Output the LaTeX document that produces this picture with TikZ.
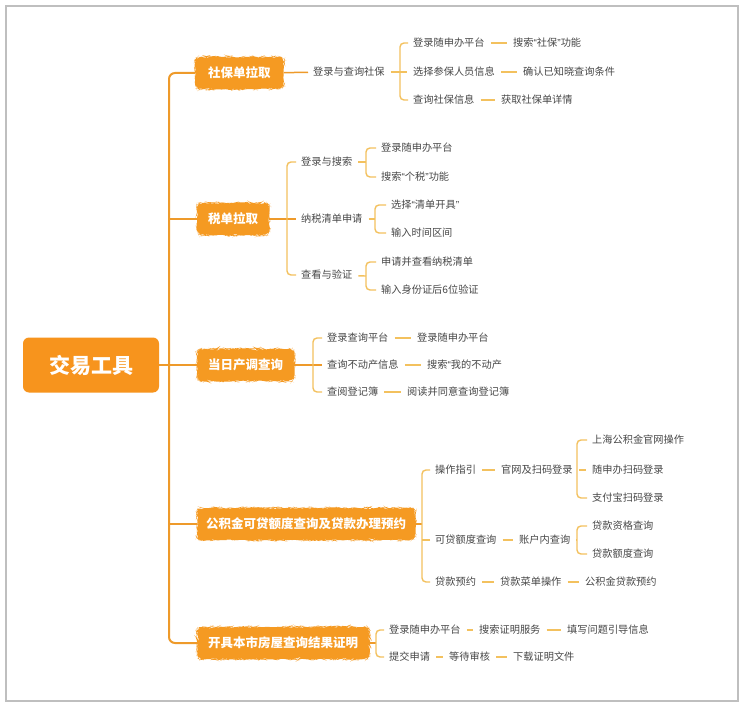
\documentclass[tikz,border=0pt]{standalone}
\usepackage{fontspec}
\setmainfont{Noto Sans CJK SC}
\newfontfamily\quotefont{Liberation Sans}
\newcommand{\openq}{{\quotefont “}}
\newcommand{\closeq}{{\quotefont ”}}
\usetikzlibrary{decorations.pathmorphing}
\definecolor{tool}{HTML}{F7941D}
\definecolor{topicfill}{HTML}{F59A22}
\definecolor{trunk}{HTML}{EE9A2A}
\definecolor{twig}{HTML}{F3C15E}
\definecolor{leafink}{HTML}{474747}

\begin{document}
\begin{tikzpicture}[x=1pt,y=-1pt,
  root/.style={fill=tool,rounded corners=6pt,minimum width=136pt,minimum height=55pt,text=white,font=\fontsize{21}{24}\selectfont\bfseries},
  topic/.style={anchor=west,fill=topicfill,rounded corners=5pt,minimum height=32pt,inner xsep=11pt,text=white,font=\fontsize{12.5}{14}\selectfont\bfseries,
    decorate,decoration={random steps,segment length=2.5pt,amplitude=0.8pt}},
  leaf/.style={anchor=west,inner sep=1pt,text=leafink,font=\fontsize{10.2}{12}\selectfont},
  trunkline/.style={draw=trunk,line width=2pt},
  branchline/.style={draw=trunk,line width=1.5pt,shorten >=4pt},
  twigline/.style={draw=twig,line width=1.4pt},
  bracket/.style={twigline,rounded corners=4pt,shorten <=4pt,shorten >=4pt},
  link/.style={twigline,shorten <=5pt,shorten >=5pt}]
  \useasboundingbox (0,0) rectangle (740,706);
  \fill[white] (0,0) rectangle (740,706);
  \draw[black!25,line width=2pt] (6,6) rectangle (738,701);

  % root and main topics
  \node[root] (root) at (91,365) {交易工具};
  \node[topic,inner xsep=13pt] (sb) at (195,73)  {社保单拉取};
  \node[topic] (sd) at (197,219) {税单拉取};
  \node[topic] (dr) at (197,365) {当日产调查询};
  \node[topic,inner xsep=9pt] (gj) at (197,524) {公积金可贷额度查询及贷款办理预约};
  \node[topic] (kj) at (197,643) {开具本市房屋查询结果证明};

  \coordinate (tk) at (169,365);
  \draw[trunkline,rounded corners=6pt] (sb.west) -| (tk) |- (kj.west);
  \draw[trunkline] (sd.west) -- (sd.west -| tk);
  \draw[trunkline] (gj.west) -- (gj.west -| tk);
  \draw[trunkline] (root) -- (dr);

  % 社保单拉取
  \node[leaf] (sbq)  at (312,72)  {登录与查询社保};
  \node[leaf] (sb1)  at (412,43)  {登录随申办平台};
  \node[leaf] (sb1a) at (512,43)  {搜索\openq 社保\closeq 功能};
  \node[leaf] (sb2)  at (412,72)  {选择参保人员信息};
  \node[leaf] (sb2a) at (522,72)  {确认已知晓查询条件};
  \node[leaf] (sb3)  at (412,100) {查询社保信息};
  \node[leaf] (sb3a) at (500,100) {获取社保单详情};
  \coordinate (sbk) at (400,72);
  \draw[branchline] (sb) -- (sbq);
  \draw[bracket] (sb1.west) -| (sbk) |- (sb3.west);
  \draw[link] (sbq) -- (sb2);
  \draw[link] (sb1) -- (sb1a);
  \draw[link] (sb2) -- (sb2a);
  \draw[link] (sb3) -- (sb3a);

  % 税单拉取
  \node[leaf] (sd1)  at (300,162) {登录与搜索};
  \node[leaf] (sd1a) at (380,148) {登录随申办平台};
  \node[leaf] (sd1b) at (380,177) {搜索\openq 个税\closeq 功能};
  \node[leaf] (sd2)  at (300,219) {纳税清单申请};
  \node[leaf] (sd2a) at (390,205) {选择\openq 清单开具\closeq};
  \node[leaf] (sd2b) at (390,233) {输入时间区间};
  \node[leaf] (sd3)  at (300,275) {查看与验证};
  \node[leaf] (sd3a) at (380,262) {申请并查看纳税清单};
  \node[leaf] (sd3b) at (380,290) {输入身份证后6位验证};
  \coordinate (sdk)  at (287,219);
  \coordinate (sd1k) at (366,162);
  \coordinate (sd2k) at (375,219);
  \coordinate (sd3k) at (366,276);
  \draw[branchline] (sd) -- (sd2);
  \draw[bracket] (sd1.west) -| (sdk) |- (sd3.west);
  \draw[twigline,shorten <=5pt] (sd1) -- (sd1k);
  \draw[twigline,shorten <=5pt] (sd2) -- (sd2k);
  \draw[twigline,shorten <=5pt] (sd3) -- (sd3k);
  \draw[bracket] (sd1a.west) -| (sd1k) |- (sd1b.west);
  \draw[bracket] (sd2a.west) -| (sd2k) |- (sd2b.west);
  \draw[bracket] (sd3a.west) -| (sd3k) |- (sd3b.west);

  % 当日产调查询
  \node[leaf] (dr1)  at (326,338) {登录查询平台};
  \node[leaf] (dr1a) at (416,338) {登录随申办平台};
  \node[leaf] (dr2)  at (326,365) {查询不动产信息};
  \node[leaf] (dr2a) at (426,365) {搜索\openq 我的不动产};
  \node[leaf] (dr3)  at (326,392) {查阅登记簿};
  \node[leaf] (dr3a) at (406,392) {阅读并同意查询登记簿};
  \coordinate (drk) at (313,365);
  \draw[branchline] (dr) -- (dr2);
  \draw[bracket] (dr1.west) -| (drk) |- (dr3.west);
  \draw[link] (dr1) -- (dr1a);
  \draw[link] (dr2) -- (dr2a);
  \draw[link] (dr3) -- (dr3a);

  % 公积金可贷额度查询及贷款办理预约
  \node[leaf] (gj1)  at (434,470) {操作指引};
  \node[leaf] (gj1a) at (500,470) {官网及扫码登录};
  \node[leaf] (gj1x) at (591,440) {上海公积金官网操作};
  \node[leaf] (gj1y) at (591,470) {随申办扫码登录};
  \node[leaf] (gj1z) at (591,498) {支付宝扫码登录};
  \node[leaf] (gj2)  at (434,540) {可贷额度查询};
  \node[leaf] (gj2a) at (518,540) {账户内查询};
  \node[leaf] (gj2x) at (591,526) {贷款资格查询};
  \node[leaf] (gj2y) at (591,554) {贷款额度查询};
  \node[leaf] (gj3)  at (434,582) {贷款预约};
  \node[leaf] (gj3a) at (499,582) {贷款菜单操作};
  \node[leaf] (gj3b) at (584,582) {公积金贷款预约};
  \coordinate (gjk)  at (422,524);
  \coordinate (gj1k) at (577,470);
  \coordinate (gj2k) at (577,540);
  \draw[branchline,shorten >=0pt] (gj) -- (gjk);
  \draw[bracket] (gj1.west) -| (gjk) |- (gj3.west);
  \draw[twigline,shorten <=4pt] (gj2.west) -- (gj2.west -| gjk);
  \draw[link] (gj1) -- (gj1a);
  \draw[link] (gj1a) -- (gj1y);
  \draw[bracket] (gj1x.west) -| (gj1k) |- (gj1z.west);
  \draw[link] (gj2) -- (gj2a);
  \draw[twigline,shorten <=5pt] (gj2a) -- (gj2k);
  \draw[bracket] (gj2x.west) -| (gj2k) |- (gj2y.west);
  \draw[link] (gj3) -- (gj3a);
  \draw[link] (gj3a) -- (gj3b);

  % 开具本市房屋查询结果证明
  \node[leaf] (kj1)  at (388,630) {登录随申办平台};
  \node[leaf] (kj1a) at (478,630) {搜索证明服务};
  \node[leaf] (kj1b) at (566,630) {填写问题引导信息};
  \node[leaf] (kj2)  at (388,657) {提交申请};
  \node[leaf] (kj2a) at (448,657) {等待审核};
  \node[leaf] (kj2b) at (512,657) {下载证明文件};
  \coordinate (kjk) at (376,643);
  \draw[branchline,shorten >=0pt] (kj) -- (kjk);
  \draw[bracket] (kj1.west) -| (kjk) |- (kj2.west);
  \draw[link] (kj1) -- (kj1a);
  \draw[link] (kj1a) -- (kj1b);
  \draw[link] (kj2) -- (kj2a);
  \draw[link] (kj2a) -- (kj2b);
\end{tikzpicture}
\end{document}
